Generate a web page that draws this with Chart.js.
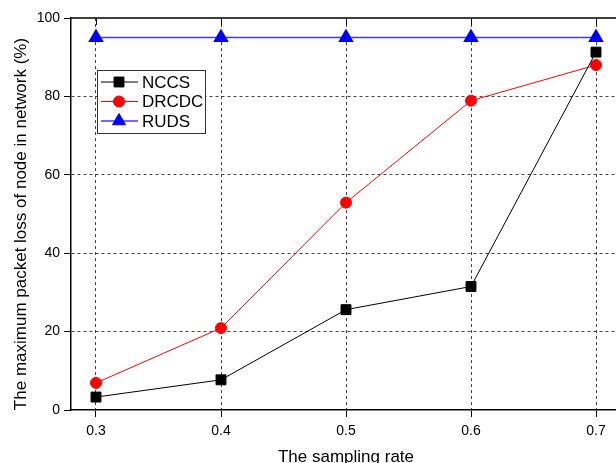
<!DOCTYPE html>
<html>
<head>
<meta charset="utf-8">
<script src="https://cdn.jsdelivr.net/npm/chart.js@4.4.0/dist/chart.umd.min.js"></script>
<style>
html, body { margin: 0; padding: 0; background: #fff; overflow: hidden; }
canvas { display: block; }
</style>
</head>
<body>
<canvas id="chart" width="640" height="475"></canvas>
<script>
// Packet loss vs. sampling rate
const samplingRate = [0.3, 0.4, 0.5, 0.6, 0.7];
const nccs = [3.3, 7.7, 25.6, 31.5, 91.3];
const drcdc = [6.9, 20.9, 52.9, 78.9, 88.0];
const ruds = [95, 95, 95, 95, 95];
const yTicks = [0, 20, 40, 60, 80, 100];

const FONT = 'Arial, "Liberation Sans", sans-serif';

function toPoints(values) {
    return samplingRate.map((x, i) => ({ x: x, y: values[i] }));
}

// Frame on top/right with inward ticks, y title, boxed legend
const framePlugin = {
    id: 'frame',
    beforeDatasetsDraw(chart) {
        const { ctx, chartArea: a, scales } = chart;
        ctx.save();
        ctx.strokeStyle = '#000';
        ctx.lineWidth = 1.5;
        ctx.beginPath();
        ctx.moveTo(a.left, a.top);
        ctx.lineTo(a.right, a.top);
        ctx.lineTo(a.right, a.bottom);
        ctx.stroke();
        ctx.lineWidth = 1;
        samplingRate.forEach(v => {
            const x = Math.round(scales.x.getPixelForValue(v)) + 0.5;
            ctx.beginPath();
            ctx.moveTo(x, a.top);
            ctx.lineTo(x, a.top + 7);
            ctx.stroke();
        });
        ctx.restore();
    },
    afterDraw(chart) {
        const { ctx, chartArea: a } = chart;
        ctx.save();
        // y axis title
        ctx.translate(21, (a.top + a.bottom) / 2 + 10);
        ctx.rotate(-Math.PI / 2);
        ctx.fillStyle = '#000';
        ctx.font = '17px ' + FONT;
        ctx.textAlign = 'center';
        ctx.textBaseline = 'middle';
        ctx.fillText('The maximum packet loss of node in network (%)', 0, 0);
        ctx.restore();

        // legend
        const bx = a.left + 26, by = a.top + 52, bw = 108, bh = 63;
        ctx.save();
        ctx.fillStyle = '#fff';
        ctx.fillRect(bx, by, bw, bh);
        ctx.strokeStyle = '#333';
        ctx.lineWidth = 1;
        ctx.strokeRect(bx + 0.5, by + 0.5, bw, bh);
        chart.data.datasets.forEach((ds, i) => {
            const y = by + 12 + i * 19.5;
            ctx.strokeStyle = ds.borderColor;
            ctx.lineWidth = ds.borderWidth;
            ctx.beginPath();
            ctx.moveTo(bx + 4, y);
            ctx.lineTo(bx + 41, y);
            ctx.stroke();
            ctx.fillStyle = ds.pointBackgroundColor;
            ctx.strokeStyle = ds.pointBorderColor;
            ctx.lineWidth = 1;
            Chart.helpers.drawPoint(ctx, {
                pointStyle: ds.pointStyle,
                radius: ds.pointRadius,
                borderWidth: 1,
                rotation: 0
            }, bx + 22, y);
            ctx.fillStyle = '#000';
            ctx.font = '17px ' + FONT;
            ctx.textAlign = 'left';
            ctx.textBaseline = 'middle';
            ctx.fillText(ds.label, bx + 45, y + 1);
        });
        ctx.restore();
    }
};

const datasets = [
    {
        label: 'NCCS',
        data: toPoints(nccs),
        borderColor: '#000',
        borderWidth: 1,
        pointStyle: 'rect',
        pointRadius: 7,
        pointBackgroundColor: '#000',
        pointBorderColor: '#000',
        order: 1
    },
    {
        label: 'DRCDC',
        data: toPoints(drcdc),
        borderColor: '#ff0000',
        borderWidth: 1,
        pointStyle: 'circle',
        pointRadius: 5.5,
        pointBackgroundColor: '#ff0000',
        pointBorderColor: '#ff0000',
        order: 2
    },
    {
        label: 'RUDS',
        data: toPoints(ruds),
        borderColor: '#3b3bff',
        borderWidth: 1.5,
        pointStyle: 'triangle',
        pointRadius: 7.5,
        pointBackgroundColor: '#0000ff',
        pointBorderColor: '#0000ff',
        order: 3
    }
];

new Chart(document.getElementById('chart').getContext('2d'), {
    type: 'line',
    data: { datasets: datasets },
    options: {
        responsive: false,
        animation: false,
        layout: { padding: { top: 18, right: 19, left: 0, bottom: 0 } },
        plugins: {
            legend: { display: false },
            tooltip: { enabled: false }
        },
        scales: {
            x: {
                type: 'linear',
                min: 0.28,
                max: 0.72,
                afterBuildTicks: s => { s.ticks = samplingRate.map(v => ({ value: v })); },
                afterFit: s => { s.height = 65; },
                ticks: {
                    callback: v => v.toFixed(1),
                    color: '#000',
                    font: { family: FONT, size: 14 },
                    padding: 6,
                    maxRotation: 0
                },
                grid: {
                    color: '#444',
                    tickBorderDash: [],
                    tickColor: '#000',
                    tickLength: 7,
                    tickWidth: 1
                },
                border: { color: '#000', width: 1.5, dash: [3, 3] },
                title: {
                    display: true,
                    text: 'The sampling rate',
                    color: '#000',
                    font: { family: FONT, size: 17 },
                    padding: { top: 0, bottom: 7 }
                }
            },
            y: {
                min: 0,
                max: 100,
                afterBuildTicks: s => { s.ticks = yTicks.map(v => ({ value: v })); },
                afterFit: s => { s.width = 71; },
                ticks: {
                    color: '#000',
                    font: { family: FONT, size: 14 },
                    padding: 4
                },
                grid: {
                    color: c => (c.tick && (c.tick.value === 0 || c.tick.value === 100)) ? 'rgba(0,0,0,0)' : '#444',
                    tickBorderDash: [],
                    tickColor: '#000',
                    tickLength: 7,
                    tickWidth: 1
                },
                border: { color: '#000', width: 1.5, dash: [3, 3] }
            }
        }
    },
    plugins: [framePlugin]
});
</script>
</body>
</html>
